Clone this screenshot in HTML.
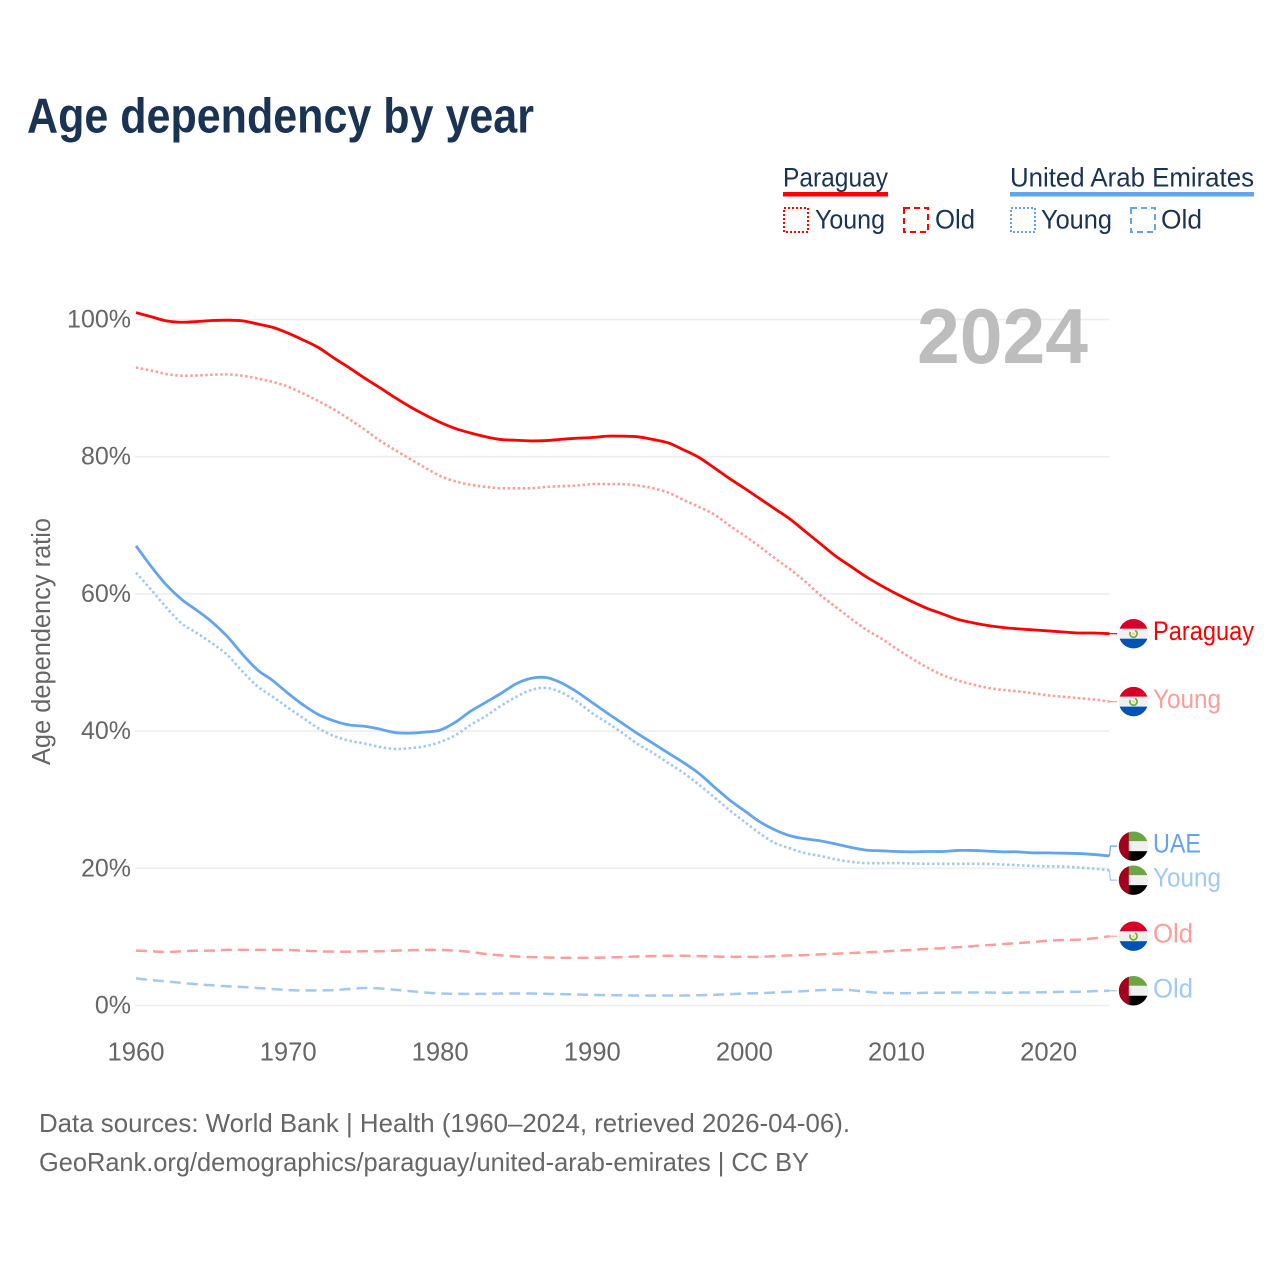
<!DOCTYPE html>
<html lang="en">
<head>
<meta charset="utf-8">
<title>Age dependency by year</title>
<style>
html,body{margin:0;padding:0;background:#fff;}
svg{display:block;font-family:"Liberation Sans",sans-serif;}
</style>
</head>
<body>
<svg id="chart" xmlns="http://www.w3.org/2000/svg" width="1280" height="1280" viewBox="0 0 1280 1280">
  <defs>
    <clipPath id="flag-clip"><circle cx="0" cy="0" r="14.7"/></clipPath>
    <g id="flag-py" clip-path="url(#flag-clip)">
      <rect x="-15" y="-15" width="30" height="30" fill="#f0f0f0"/>
      <rect x="-15" y="-15" width="30" height="10" fill="#d80027"/>
      <rect x="-15" y="5" width="30" height="10" fill="#0052b4"/>
      <circle cx="0" cy="0" r="3.6" fill="none" stroke="#6da544" stroke-width="1.6" stroke-dasharray="17 6" transform="rotate(-65)"/>
      <circle cx="0" cy="0" r="1.3" fill="#ffda44"/>
    </g>
    <g id="flag-ae" clip-path="url(#flag-clip)">
      <rect x="-15" y="-15" width="30" height="30" fill="#f0f0f0"/>
      <rect x="-15" y="-15" width="30" height="10" fill="#6da544"/>
      <rect x="-15" y="5" width="30" height="10" fill="#000"/>
      <rect x="-15" y="-15" width="10.3" height="30" fill="#a2001d"/>
    </g>
  </defs>

  <text x="27" y="132.5" font-size="49" font-weight="700" fill="#1a3353" textLength="507" lengthAdjust="spacingAndGlyphs">Age dependency by year</text>

  <g font-size="27" fill="#1a3353">
    <text x="783" y="186.5" textLength="105" lengthAdjust="spacingAndGlyphs">Paraguay</text>
    <rect x="783" y="192" width="105" height="4.5" fill="#ff0000"/>
    <rect x="784" y="208" width="24" height="24" fill="none" stroke="#ff0000" stroke-width="2" stroke-dasharray="2 2"/>
    <text x="815" y="228.5" textLength="70" lengthAdjust="spacingAndGlyphs">Young</text>
    <rect x="904" y="208" width="24" height="24" fill="none" stroke="#ff0000" stroke-width="2" stroke-dasharray="6 4"/>
    <text x="935" y="228.5" textLength="40" lengthAdjust="spacingAndGlyphs">Old</text>

    <text x="1010" y="186.5" textLength="244" lengthAdjust="spacingAndGlyphs">United Arab Emirates</text>
    <rect x="1010" y="192" width="244" height="4.5" fill="#62a5ee"/>
    <rect x="1011" y="208" width="24" height="24" fill="none" stroke="#62a5ee" stroke-width="2" stroke-dasharray="2 2"/>
    <text x="1041" y="228.5" textLength="71" lengthAdjust="spacingAndGlyphs">Young</text>
    <rect x="1131" y="208" width="24" height="24" fill="none" stroke="#62a5ee" stroke-width="2" stroke-dasharray="6 4"/>
    <text x="1161" y="228.5" textLength="41" lengthAdjust="spacingAndGlyphs">Old</text>
  </g>

  <text transform="translate(50,765) rotate(-90)" font-size="25.5" fill="#666666" textLength="247" lengthAdjust="spacingAndGlyphs">Age dependency ratio</text>

  <g id="grid"></g>
  <g id="yticks"></g>
  <g id="xticks"></g>

  <text x="917" y="363" font-size="78" font-weight="700" fill="#bdbdbd" textLength="171" lengthAdjust="spacingAndGlyphs">2024</text>

  <g id="series"></g>
  <g id="endlabels"></g>

  <g font-size="26" fill="#666666">
    <text x="39" y="1132" textLength="811" lengthAdjust="spacingAndGlyphs">Data sources: World Bank | Health (1960–2024, retrieved 2026-04-06).</text>
    <text x="39" y="1171" textLength="770" lengthAdjust="spacingAndGlyphs">GeoRank.org/demographics/paraguay/united-arab-emirates | CC BY</text>
  </g>
</svg>

<script>
const firstYear = 1960;
const xTickYears = [1960, 1970, 1980, 1990, 2000, 2010, 2020];
const yTickValues = [0, 20, 40, 60, 80, 100];

const paraguayTotal = [101.0,100.4,99.8,99.6,99.7,99.85,99.9,99.8,99.35,98.85,98.0,97.0,95.9,94.4,93.0,91.5,90.1,88.65,87.3,86.1,85.0,84.1,83.45,82.9,82.5,82.4,82.3,82.35,82.55,82.7,82.8,83.0,83.0,82.9,82.5,82.0,81.0,79.9,78.4,76.85,75.4,73.9,72.4,70.9,69.1,67.3,65.5,64.0,62.5,61.2,60.0,58.9,57.9,57.1,56.3,55.8,55.4,55.1,54.9,54.75,54.6,54.45,54.3,54.3,54.2];
const paraguayYoung = [93.0,92.55,92.05,91.8,91.85,91.95,92.0,91.8,91.4,90.9,90.2,89.2,88.1,86.9,85.5,84.0,82.4,81.0,79.7,78.4,77.2,76.4,75.9,75.6,75.4,75.4,75.4,75.6,75.7,75.8,76.0,76.0,76.0,75.8,75.4,74.75,73.7,72.7,71.6,70.0,68.5,66.9,65.2,63.6,61.8,59.8,58.1,56.4,54.8,53.5,52.0,50.6,49.3,48.2,47.4,46.8,46.3,46.0,45.8,45.5,45.2,45.0,44.8,44.6,44.3];
const paraguayOld = [8.0,7.9,7.8,7.9,8.0,8.0,8.1,8.1,8.1,8.1,8.1,8.0,7.9,7.85,7.85,7.9,7.9,8.0,8.05,8.1,8.1,8.0,7.8,7.5,7.3,7.15,7.05,7.0,6.95,6.95,6.95,7.0,7.05,7.15,7.2,7.25,7.25,7.2,7.15,7.1,7.1,7.1,7.2,7.3,7.35,7.45,7.55,7.65,7.75,7.85,8.0,8.1,8.25,8.35,8.5,8.65,8.8,8.95,9.1,9.25,9.45,9.55,9.6,9.8,10.1];
const uaeTotal = [67.0,64.0,61.3,59.2,57.6,55.9,53.8,51.2,48.9,47.35,45.5,43.8,42.4,41.5,40.9,40.7,40.3,39.8,39.7,39.85,40.15,41.3,42.9,44.2,45.5,46.9,47.7,47.8,47.0,45.7,44.15,42.6,41.1,39.6,38.2,36.8,35.4,33.85,31.9,30.0,28.4,26.8,25.6,24.75,24.3,24.0,23.55,23.05,22.65,22.55,22.45,22.4,22.45,22.45,22.6,22.6,22.5,22.4,22.4,22.25,22.25,22.2,22.15,22.0,21.8];
const uaeYoung = [63.1,60.6,58.0,55.7,54.3,52.8,51.1,48.7,46.5,45.0,43.4,41.9,40.4,39.3,38.6,38.2,37.7,37.4,37.5,37.8,38.4,39.4,40.9,42.2,43.7,45.0,46.0,46.3,45.6,44.3,42.6,41.2,39.7,38.1,36.8,35.35,33.9,32.2,30.4,28.5,26.8,25.1,23.7,22.9,22.2,21.8,21.3,20.95,20.75,20.75,20.75,20.7,20.65,20.65,20.65,20.65,20.65,20.55,20.45,20.35,20.3,20.25,20.1,19.95,19.7];
const uaeOld = [3.95,3.7,3.5,3.3,3.1,2.95,2.8,2.7,2.55,2.4,2.25,2.2,2.2,2.25,2.4,2.55,2.5,2.3,2.1,1.9,1.75,1.7,1.7,1.7,1.75,1.75,1.75,1.7,1.65,1.6,1.55,1.5,1.5,1.45,1.45,1.45,1.45,1.5,1.55,1.65,1.75,1.8,1.9,2.0,2.1,2.25,2.3,2.25,2.0,1.85,1.8,1.8,1.85,1.85,1.9,1.9,1.9,1.85,1.9,1.9,1.95,2.0,2.0,2.1,2.15];

const NS = 'http://www.w3.org/2000/svg';
const xScale = function (year) { return 136 + (year - firstYear) * 15.21; };
const yScale = function (v) { return 1005.5 - v * 6.86; };
const plotRight = xScale(2024);

function make(tag, attrs, parent) {
  const el = document.createElementNS(NS, tag);
  for (const k in attrs) el.setAttribute(k, attrs[k]);
  parent.appendChild(el);
  return el;
}

/* Catmull-Rom smoothing through the yearly points */
function smoothPath(values) {
  const pts = values.map(function (v, i) { return [xScale(firstYear + i), yScale(v)]; });
  let d = 'M' + pts[0][0].toFixed(2) + ' ' + pts[0][1].toFixed(2);
  for (let i = 0; i < pts.length - 1; i++) {
    const p0 = pts[Math.max(0, i - 1)];
    const p1 = pts[i];
    const p2 = pts[i + 1];
    const p3 = pts[Math.min(pts.length - 1, i + 2)];
    const c1x = p1[0] + (p2[0] - p0[0]) / 6;
    const c1y = p1[1] + (p2[1] - p0[1]) / 6;
    const c2x = p2[0] - (p3[0] - p1[0]) / 6;
    const c2y = p2[1] - (p3[1] - p1[1]) / 6;
    d += ' C' + c1x.toFixed(2) + ' ' + c1y.toFixed(2) + ' ' + c2x.toFixed(2) + ' ' + c2y.toFixed(2) + ' ' + p2[0].toFixed(2) + ' ' + p2[1].toFixed(2);
  }
  return d;
}

const gridG = document.getElementById('grid');
const yTickG = document.getElementById('yticks');
yTickValues.forEach(function (v) {
  const line = make('line', {x1: 135, x2: plotRight, y1: yScale(v), y2: yScale(v), stroke: '#eeeeee', 'stroke-width': 1.6}, gridG);
  
  
  const t = make('text', {x: 131, y: yScale(v) + 8, 'text-anchor': 'end', 'font-size': 25, fill: '#666666'}, yTickG);
  
  
  t.textContent = v + '%';
});

const xTickG = document.getElementById('xticks');
xTickYears.forEach(function (year) {
  const t = make('text', {x: xScale(year), y: 1060.5, 'text-anchor': 'middle', 'font-size': 25.5, fill: '#666666', textLength: 57, lengthAdjust: 'spacingAndGlyphs'}, xTickG);
  
  
  t.textContent = String(year);
});

const seriesDefs = [
  {key: 'paraguay-total', values: paraguayTotal, color: '#ff0000', dash: '', width: 2.8, flag: 'flag-py', label: 'Paraguay', labelWidth: 101},
  {key: 'paraguay-young', values: paraguayYoung, color: '#ff9c9c', dash: '2.5 2.5', width: 2.6, flag: 'flag-py', label: 'Young', labelWidth: 68},
  {key: 'paraguay-old', values: paraguayOld, color: '#ff9c9c', dash: '11 6', width: 2.5, flag: 'flag-py', label: 'Old', labelWidth: 40},
  {key: 'uae-total', values: uaeTotal, color: '#62a5ee', dash: '', width: 2.8, flag: 'flag-ae', label: 'UAE', labelWidth: 48},
  {key: 'uae-young', values: uaeYoung, color: '#a1c9f4', dash: '2.5 2.5', width: 2.6, flag: 'flag-ae', label: 'Young', labelWidth: 68},
  {key: 'uae-old', values: uaeOld, color: '#a1c9f4', dash: '11 6', width: 2.5, flag: 'flag-ae', label: 'Old', labelWidth: 40}
];

const seriesG = document.getElementById('series');
seriesDefs.forEach(function (s) {
  const attrs = {d: smoothPath(s.values), fill: 'none', stroke: s.color, 'stroke-width': s.width, 'stroke-linejoin': 'round'};
  if (s.dash) attrs['stroke-dasharray'] = s.dash;
  const path = make('path', attrs, seriesG);
  
  
});

/* end labels: start at the last value, push apart where they would collide */
const minGap = 34;
const placed = seriesDefs.map(function (s) {
  const end = yScale(s.values[s.values.length - 1]);
  return {s: s, end: end, y: end};
}).sort(function (a, b) { return a.end - b.end; });
for (let i = 1; i < placed.length; i++) {
  const gap = placed[i].y - placed[i - 1].y;
  if (gap < minGap) {
    const mid = (placed[i].y + placed[i - 1].y) / 2;
    placed[i - 1].y = mid - minGap / 2;
    placed[i].y = mid + minGap / 2;
  }
}

const labelG = document.getElementById('endlabels');
placed.forEach(function (p) {
  const key = p.s.key;
  const moved = Math.abs(p.y - p.end) > 0.5;
  const connector = make('path', {
    d: moved
      ? 'M' + plotRight + ' ' + p.end + ' L' + (plotRight + 1) + ' ' + p.y + ' L1117 ' + p.y
      : 'M' + plotRight + ' ' + p.end + ' L1117 ' + p.y,
    fill: 'none', stroke: p.s.color, 'stroke-width': 1.2
  }, labelG);
  
  

  const flag = make('use', {href: '#' + p.s.flag, transform: 'translate(1133.5,' + p.y + ')'}, labelG);
  
  

  const t = make('text', {x: 1153, y: p.y + 6.5, 'font-size': 26.5, fill: p.s.color, textLength: p.s.labelWidth, lengthAdjust: 'spacingAndGlyphs'}, labelG);
  
  
  t.textContent = p.s.label;
});
</script>
</body>
</html>
